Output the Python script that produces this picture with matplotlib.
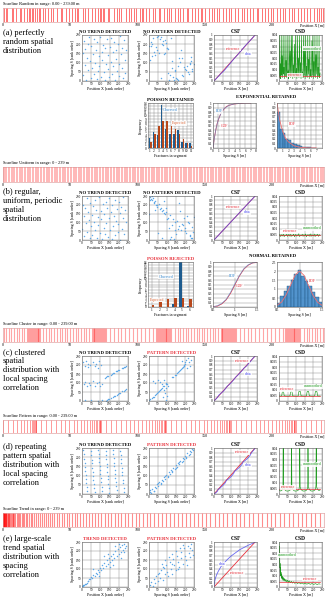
import matplotlib
matplotlib.use('Agg')
import matplotlib.pyplot as plt

plt.rcParams['font.family'] = ['Liberation Serif', 'DejaVu Serif']

# ---------------- scanline fracture positions [m] ----------------
random_pos = [0.8, 2.1, 3.0, 6.5, 7.2, 9.8, 12.4, 13.1, 15.9, 18.0, 19.3, 20.1, 21.7, 22.4, 24.0,
              25.2, 26.8, 27.5, 29.9, 31.2, 33.6, 36.0, 37.4, 40.2, 43.5, 44.1, 46.9, 49.0, 51.3,
              53.8, 55.0, 56.2, 59.7, 61.1, 63.4, 66.0, 68.3, 70.5, 72.0, 73.1, 74.6, 75.3, 77.9,
              79.2, 82.5, 85.0, 86.7, 88.1, 91.4, 93.9, 95.2, 97.6, 99.0, 101.8, 103.3, 104.1,
              106.5, 109.0, 111.7, 113.2, 115.8, 117.0, 119.5, 121.9, 123.4, 125.0, 127.8, 130.1,
              131.6, 134.2, 136.8, 138.0, 140.5, 142.9, 145.1, 147.3, 148.0, 150.6, 153.2, 155.9,
              157.1, 159.4, 161.0, 163.8, 166.2, 168.5, 170.0, 172.7, 175.3, 177.9, 179.2, 181.6,
              184.0, 186.4, 188.9, 190.1, 192.5, 195.0, 197.3, 199.8, 201.2, 203.9, 206.1, 208.4,
              210.0, 212.6, 215.3, 217.0, 219.8, 222.1, 224.4, 226.0, 228.7, 231.3, 233.5, 235.2,
              237.0, 238.6]

uniform_pos = [0.6, 2.5, 4.4, 6.5, 8.3, 10.4, 12.5, 14.3, 16.4, 18.5, 20.3, 22.6, 24.4, 26.3, 28.6,
               30.4, 32.5, 34.3, 36.6, 38.5, 40.3, 42.4, 44.6, 46.5, 48.3, 50.4, 52.5, 54.4, 56.6,
               58.3, 60.5, 62.4, 64.3, 66.6, 68.5, 70.3, 72.4, 74.5, 76.6, 78.4, 80.3, 82.5, 84.6,
               86.4, 88.3, 90.5, 92.4, 94.6, 96.5, 98.3, 100.4, 102.6, 104.5, 106.3, 108.4, 110.6,
               112.5, 114.3, 116.4, 118.5, 120.6, 122.3, 124.5, 126.4, 128.6, 130.3, 132.5, 134.4,
               136.6, 138.5, 140.3, 142.4, 144.6, 146.5, 148.3, 150.4, 152.6, 154.5, 156.3, 158.4,
               160.5, 162.6, 164.3, 166.5, 168.4, 170.6, 172.3, 174.5, 176.4, 178.6, 180.5, 182.3,
               184.4, 186.6, 188.5, 190.3, 192.4, 194.6, 196.3, 198.5, 200.4, 202.6, 204.5, 206.3,
               208.4, 210.6, 212.5, 214.3, 216.4, 218.6, 220.5, 222.3, 224.4, 226.6, 228.5, 230.3,
               232.4, 234.6, 236.5, 238.4]

cluster_pos = [0.5, 2.4, 4.3, 6.1, 8.0, 10.2, 12.1, 14.0, 15.9,
               18.0, 18.7, 19.4, 20.1, 20.8, 21.5, 22.2, 22.9, 23.6, 24.3, 25.0, 25.7, 26.4, 27.1, 27.8,
               30.0, 32.0, 34.1, 36.0, 38.1, 40.0, 42.2, 44.0, 46.1, 48.0, 50.2, 52.1, 54.0, 56.1,
               58.0, 60.2, 62.0, 64.1,
               66.0, 66.7, 67.4, 68.1, 68.8, 69.5, 70.2, 70.9, 71.6, 72.3, 73.0, 73.7, 74.4, 75.1, 75.8, 76.5,
               79.5, 82.4, 85.3, 88.2, 91.1, 94.0, 96.9, 99.8, 102.7, 105.6, 108.5, 111.4,
               114.0, 114.7, 115.4, 116.1, 116.8, 117.5, 118.2, 118.9, 119.6, 120.3, 121.0, 121.7, 122.4,
               123.1, 123.8, 124.5, 125.2,
               128.0, 130.0, 132.1, 134.0, 136.1, 138.0, 140.2, 142.0, 144.1, 146.0, 148.2, 150.0,
               152.1, 154.0, 156.2, 158.0, 160.1,
               162.0, 162.7, 163.4, 164.1, 164.8, 165.5, 166.2, 166.9, 167.6, 168.3, 169.0, 169.7, 170.4,
               171.1, 171.8, 172.5, 173.2,
               176.3, 179.2, 182.1, 185.0, 187.9, 190.8, 193.7, 196.6, 199.5, 202.4, 205.3, 208.2,
               210.0, 210.7, 211.4, 212.1, 212.8, 213.5, 214.2, 214.9, 215.6, 216.3, 217.0, 217.7, 218.4,
               219.1, 219.8, 220.5, 221.2,
               224.0, 226.0, 228.1, 230.0, 232.1, 234.0, 236.1, 238.0]

pattern_pos = [0.3, 3.8, 7.2, 10.4, 13.3, 15.9, 18.1, 19.9, 21.3, 22.4, 23.2, 23.8, 24.2, 24.5,
               28.4, 32.2, 35.9, 39.5, 43.0, 46.3, 49.5, 52.5, 55.3, 57.9, 60.3, 62.5, 64.5, 66.3,
               67.9, 69.2, 70.3, 71.2, 71.9, 72.4, 72.8,
               76.7, 80.5, 84.2, 87.8, 91.3, 94.6, 97.8, 100.8, 103.6, 106.2, 108.6, 110.8, 112.8,
               114.6, 116.2, 117.6, 118.7, 119.6, 120.3, 120.9, 121.3,
               125.2, 129.0, 132.7, 136.3, 139.8, 143.1, 146.3, 149.3, 152.1, 154.7, 157.1, 159.3,
               161.3, 163.1, 164.6, 165.9, 167.0, 167.9, 168.6, 169.2, 169.6,
               173.5, 177.3, 181.0, 184.6, 188.1, 191.4, 194.6, 197.6, 200.4, 203.0, 205.4, 207.6,
               209.6, 211.4, 213.0, 214.3, 215.4, 216.3, 217.0, 217.6, 218.0,
               221.9, 225.7, 229.4, 233.0, 236.5]

trend_pos = [0.0, 0.15, 0.3, 0.45, 0.6, 0.8, 1.0, 1.2, 1.45, 1.7, 2.0, 2.3, 2.6, 3.0, 3.4, 3.8,
             4.3, 4.8, 5.3, 5.9, 6.5, 7.1, 7.8, 8.5, 9.3, 10.1, 11.0, 11.9, 12.8, 13.8, 14.8, 15.9,
             17.0, 18.1, 19.3, 20.5, 21.8, 23.1, 24.4, 25.8, 27.2, 28.7, 30.2, 31.7, 33.3, 34.9,
             36.6, 38.3, 40.0, 41.8, 43.6, 45.5, 47.4, 49.3, 51.3, 53.3, 55.4, 57.5, 59.6, 61.8,
             64.0, 66.3, 68.6, 70.9, 73.3, 75.7, 78.1, 80.6, 83.1, 85.6, 88.2, 90.8, 93.4, 96.1,
             98.8, 101.5, 104.2, 107.0, 109.8, 112.6, 115.4, 118.3, 121.2, 124.1, 127.0, 130.0,
             133.0, 136.0, 139.0, 142.0, 145.1, 148.2, 151.3, 154.4, 157.5, 160.6, 163.8, 167.0,
             170.2, 173.4, 176.6, 179.8, 183.0, 186.3, 189.6, 192.9, 196.2, 199.5, 202.8, 206.1,
             209.4, 212.7, 216.0, 219.3, 222.6, 225.9, 229.2, 232.5, 235.8, 239.0]

scan_titles = ['Scanline Random in range: 0.00 - 239.00 m',
               'Scanline Uniform in range: 0 - 239 m',
               'Scanline Cluster in range: 0.00 - 239.00 m',
               'Scanline Pattern in range: 0.00 - 239.00 m',
               'Scanline Trend in range: 0 - 239 m']

row_texts = ['(a) perfectly\nrandom spatial\ndistribution',
             '(b) regular,\nuniform, periodic\nspatial\ndistribution',
             '(c) clustered\nspatial\ndistribution with\nlocal spacing\ncorrelation',
             '(d) repeating\npattern spatial\ndistribution with\nlocal spacing\ncorrelation',
             '(e) large-scale\ntrend spatial\ndistribution with\nspacing\ncorrelation']

# ---------------- rank-order scatter data ----------------
a_tr_x = [3, 7, 11, 15, 19, 23, 27, 31, 35, 39, 43, 47, 51, 55, 59, 63, 67, 71, 75, 79, 83, 87, 91,
          95, 99, 103, 107, 111, 115, 119, 123, 127, 131, 135, 139, 143, 147, 151, 155, 159, 163,
          167, 171, 175, 179, 183, 187, 191, 195, 199, 203, 207, 211, 215, 219, 223, 227, 231, 235, 239]
a_tr_y = [152, 31, 219, 88, 174, 7, 126, 203, 61, 237, 109, 18, 190, 73, 145, 229, 40, 98, 166, 12,
          210, 57, 134, 83, 241, 24, 160, 115, 196, 49, 8, 178, 92, 226, 66, 139, 20, 187, 104, 233,
          37, 157, 79, 212, 3, 121, 170, 54, 199, 95, 28, 243, 148, 70, 182, 14, 223, 112, 45, 168]
a_pt_x = [12, 201, 87, 150, 33, 226, 64, 118, 179, 5, 241, 95, 140, 58, 213, 21, 167, 104, 76, 190,
          44, 233, 129, 9, 159, 83, 208, 37, 121, 248, 69, 185, 16, 143, 98, 222, 51, 172, 112, 27,
          196, 80, 236, 135, 2, 163, 91, 216, 47, 126, 184, 71, 238, 108, 18, 155, 62, 229, 145, 100]
a_pt_y = [188, 66, 221, 14, 139, 97, 240, 35, 170, 115, 52, 208, 8, 154, 81, 231, 123, 43, 196, 26,
          166, 109, 73, 213, 3, 146, 59, 185, 233, 90, 16, 127, 199, 62, 178, 39, 245, 101, 5, 158,
          76, 217, 130, 22, 192, 84, 150, 48, 238, 111, 31, 203, 67, 174, 136, 11, 226, 95, 55, 181]

b_tr_x = [1, 5, 9, 13, 17, 21, 25, 29, 33, 37, 41, 45, 49, 53, 57, 61, 65, 69, 73, 77, 81, 85, 89,
          93, 97, 101, 105, 109, 113, 117, 121, 125, 129, 133, 137, 141, 145, 149, 153, 157, 161,
          165, 169, 173, 177, 181, 185, 189, 193, 197, 201, 205, 209, 213, 217, 221, 225, 229, 233, 237]
b_tr_y = [64, 201, 137, 22, 180, 95, 239, 48, 158, 116, 9, 212, 77, 143, 30, 193, 104, 227, 58, 171,
          13, 130, 86, 246, 41, 164, 120, 3, 205, 70, 149, 35, 218, 99, 183, 17, 236, 125, 54, 161,
          6, 197, 81, 139, 27, 230, 109, 175, 45, 90, 214, 152, 1, 186, 62, 123, 242, 33, 168, 102]
b_pt_x = [205, 17, 133, 78, 240, 56, 162, 4, 119, 191, 38, 225, 92, 147, 11, 178, 66, 234, 105, 29,
          198, 84, 152, 47, 216, 123, 8, 169, 71, 243, 100, 26, 186, 59, 138, 212, 35, 110, 229, 15,
          157, 88, 201, 43, 126, 250, 74, 174, 20, 143, 97, 220, 52, 166, 1, 114, 238, 81, 193, 31]
b_pt_y = [40, 226, 118, 173, 12, 205, 62, 244, 140, 85, 197, 28, 158, 101, 235, 56, 183, 9, 127, 214,
          70, 151, 33, 190, 105, 18, 230, 79, 166, 46, 121, 208, 91, 177, 3, 138, 220, 66, 24, 249,
          110, 148, 51, 199, 87, 131, 14, 162, 239, 59, 181, 95, 37, 210, 145, 5, 75, 221, 124, 170]

c_tr_x = [8, 15, 22, 30, 35, 42, 60, 68, 75, 88, 95, 104,
          10, 18, 25, 38, 45, 62, 70, 80, 92, 100, 108,
          14, 50, 85, 110,
          125, 131, 137, 143, 155, 161, 167, 173, 185, 191, 197, 203, 215, 221, 227, 233, 239,
          130, 136, 142, 148, 160, 166, 172, 178, 190, 196, 202, 208, 220, 226, 232, 238]
c_tr_y = [215, 195, 222, 205, 188, 200, 218, 192, 208, 186, 221, 199,
          95, 108, 84, 101, 90, 110, 86, 98, 105, 82, 93,
          3, 6, 2, 5,
          130, 133, 137, 140, 147, 150, 154, 157, 164, 167, 171, 174, 181, 184, 188, 191, 194,
          2, 5, 9, 12, 19, 23, 26, 29, 36, 40, 43, 47, 53, 57, 60, 64]
c_pt_x = [2, 8, 14, 20, 26, 32, 38, 44, 50, 56, 62, 68, 74, 80, 86, 92, 98,
          130, 136, 142, 148, 154, 160, 166, 172, 178, 184, 190, 196, 202,
          22, 35, 48, 60, 72, 85, 95,
          80, 88, 95, 102, 108, 92, 84,
          185, 195, 205, 212, 220, 228, 236, 200, 215, 190]
c_pt_y = [3, 9, 14, 21, 25, 33, 37, 45, 49, 57, 61, 69, 73, 81, 85, 93, 97,
          131, 135, 143, 147, 155, 159, 167, 171, 179, 183, 191, 195, 203,
          112, 98, 118, 104, 95, 115, 100,
          20, 45, 70, 30, 85, 8, 60,
          225, 200, 230, 185, 215, 195, 228, 215, 240, 190]

d_tr_x = [8, 10, 12, 14, 16, 18, 20, 22, 24, 26, 28,
          48, 50, 52, 54, 56, 58, 60, 62, 64, 66, 68,
          88, 90, 92, 94, 96, 98, 100, 102, 104, 106, 108,
          128, 130, 132, 134, 136, 138, 140, 142, 144, 146, 148,
          168, 170, 172, 174, 176, 178, 180, 182, 184, 186, 188,
          208, 210, 212, 214, 216, 218, 220, 222, 224, 226, 228]
d_tr_y = [238, 215, 192, 170, 148, 126, 104, 82, 60, 38, 15,
          232, 211, 186, 166, 141, 120, 99, 74, 55, 31, 9,
          240, 219, 195, 173, 150, 131, 106, 85, 63, 40, 18,
          235, 210, 190, 164, 145, 122, 97, 79, 52, 34, 6,
          237, 217, 193, 171, 152, 128, 108, 88, 66, 45, 22,
          231, 212, 189, 168, 143, 119, 101, 77, 58, 35, 12]
d_pt_x = [5, 12, 18, 25, 31, 38, 44, 51, 57, 64, 70, 77, 83, 90, 96, 103, 109, 116, 122, 129, 135,
          142, 148, 155, 161, 168, 174, 181, 187, 194, 200, 207, 213, 220, 226, 233, 239, 245,
          8, 28, 48, 68, 88, 108, 128, 148, 168, 188, 208, 228]
d_pt_y = [12, 4, 25, 18, 40, 30, 52, 44, 66, 58, 78, 70, 92, 83, 104, 97, 118, 109, 130, 123, 144,
          136, 156, 149, 170, 161, 182, 175, 196, 188, 208, 201, 222, 214, 234, 228, 246, 240,
          20, 18, 60, 55, 98, 95, 118, 140, 175, 178, 198, 215]

e_tr_x = [2, 5, 8, 12, 16, 20, 25, 30, 35, 40, 45, 50, 56, 62, 68, 74, 80, 86, 92, 98, 104, 110,
          116, 122, 128, 134, 140, 146, 152, 158, 164, 170, 176, 182, 188, 194, 200, 206, 212, 218,
          224, 230, 236, 240, 60, 90, 120, 150, 180, 210, 230, 200, 170, 140]
e_tr_y = [3, 4, 10, 11, 18, 19, 24, 33, 32, 44, 42, 55, 52, 68, 63, 80, 72, 95, 85, 105, 96, 122,
          108, 131, 118, 148, 126, 160, 138, 172, 150, 185, 160, 199, 170, 212, 182, 225, 196, 232,
          205, 240, 215, 230, 100, 60, 170, 110, 230, 160, 195, 240, 120, 185]
e_pt_x = [5, 12, 20, 25, 35, 40, 48, 55, 60, 68, 75, 80, 88, 95, 100, 108, 115, 120, 128, 135, 140,
          148, 155, 160, 168, 175, 180, 188, 195, 200, 208, 215, 220, 228, 235, 240, 245, 190, 170,
          150, 130, 110, 90, 70, 210, 230, 160, 125, 85, 50]
e_pt_y = [10, 30, 8, 45, 20, 60, 35, 80, 50, 95, 40, 110, 70, 125, 85, 60, 140, 100, 75, 155, 120,
          95, 175, 140, 110, 195, 160, 130, 215, 175, 150, 230, 190, 165, 240, 205, 180, 235, 215,
          200, 185, 165, 150, 130, 120, 215, 100, 130, 105, 75]

# ---------------- CSF (cumulative spacing) ----------------
csf_ref_x = [0, 239]
csf_ref_y = [0, 1]
csf_a_x = [0, 20, 40, 60, 80, 100, 120, 140, 160, 180, 200, 220, 239]
csf_a_y = [0, 0.08, 0.16, 0.23, 0.32, 0.41, 0.5, 0.58, 0.67, 0.76, 0.84, 0.92, 1.0]
csf_b_x = [0, 20, 40, 60, 80, 100, 120, 140, 160, 180, 200, 220, 239]
csf_b_y = [0, 0.084, 0.167, 0.251, 0.335, 0.418, 0.502, 0.586, 0.669, 0.753, 0.837, 0.92, 1.0]
csf_c_x = [0, 18, 28, 40, 55, 66, 77, 90, 105, 114, 126, 140, 152, 162, 174, 190, 200, 210, 222, 239]
csf_c_y = [0, 0.07, 0.13, 0.17, 0.22, 0.27, 0.33, 0.37, 0.43, 0.47, 0.53, 0.58, 0.63, 0.67, 0.73,
           0.78, 0.83, 0.87, 0.93, 1.0]
csf_d_x = [0, 10, 20, 24.5, 35, 50, 65, 72.8, 85, 100, 113, 121.3, 133, 148, 162, 169.6, 182, 197,
           210, 218, 230, 239]
csf_d_y = [0, 0.025, 0.06, 0.1, 0.13, 0.18, 0.24, 0.3, 0.33, 0.38, 0.44, 0.5, 0.53, 0.58, 0.64, 0.7,
           0.73, 0.78, 0.84, 0.9, 0.95, 1.0]
csf_e_x = [0, 3, 8, 15, 25, 40, 60, 80, 100, 125, 150, 175, 200, 225, 239]
csf_e_y = [0, 0.1, 0.19, 0.27, 0.35, 0.45, 0.54, 0.62, 0.69, 0.76, 0.83, 0.88, 0.93, 0.97, 1.0]

# ---------------- CSD (spacing density, unsmoothed) ----------------
csd_ref_x = [0, 239]
csd_ref_y = [0.0042, 0.0042]
csd_a_x = [0, 3, 5, 8, 10, 13, 16, 18, 21, 24, 27, 29, 32, 35, 38, 41, 44, 47, 50, 53,
           56, 59, 62, 65, 68, 71, 74, 77, 80, 83, 86, 89, 92, 95, 98, 101, 104, 107, 110, 113,
           116, 119, 122, 125, 128, 131, 134, 137, 140, 143, 146, 149, 152, 155, 158, 161, 164,
           167, 170, 173, 176, 179, 182, 185, 188, 191, 194, 197, 200, 203, 206, 209, 212, 215,
           218, 221, 224, 227, 230, 233, 236, 239]
csd_a_y = [0.004, 0.041, 0.003, 0.015, 0.002, 0.041, 0.005, 0.022, 0.003, 0.041,
           0.006, 0.012, 0.002, 0.041, 0.004, 0.018, 0.003, 0.041, 0.005, 0.009,
           0.002, 0.041, 0.004, 0.026, 0.003, 0.041, 0.006, 0.041, 0.002, 0.014,
           0.004, 0.032, 0.003, 0.041, 0.005, 0.011, 0.002, 0.041, 0.004, 0.020,
           0.003, 0.041, 0.006, 0.016, 0.002, 0.041, 0.004, 0.008, 0.003, 0.041,
           0.005, 0.028, 0.002, 0.041, 0.004, 0.013, 0.003, 0.041, 0.006, 0.019,
           0.002, 0.041, 0.004, 0.010, 0.003, 0.035, 0.005, 0.041, 0.002, 0.017,
           0.004, 0.041, 0.003, 0.023, 0.006, 0.041, 0.002, 0.012, 0.004, 0.041,
           0.003, 0.007]
csd_b_x = [0, 5, 10, 15, 20, 25, 30, 35, 40, 45, 50, 55, 60, 65, 70, 75, 80, 85, 90, 95,
           100, 105, 110, 115, 120, 125, 130, 135, 140, 145, 150, 155, 160, 165, 170, 175, 180,
           185, 190, 195, 200, 205, 210, 215, 220, 225, 230, 235, 239]
csd_b_y = [0.0035, 0.0052, 0.0031, 0.0049, 0.0036, 0.0055, 0.0030, 0.0047, 0.0038, 0.0053,
           0.0032, 0.0050, 0.0035, 0.0056, 0.0031, 0.0048, 0.0037, 0.0054, 0.0030, 0.0051,
           0.0034, 0.0049, 0.0036, 0.0057, 0.0031, 0.0046, 0.0038, 0.0053, 0.0033, 0.0050,
           0.0035, 0.0055, 0.0030, 0.0048, 0.0037, 0.0052, 0.0032, 0.0056, 0.0034, 0.0047,
           0.0036, 0.0054, 0.0031, 0.0050, 0.0038, 0.0053, 0.0033, 0.0049, 0.0040]
csd_c_x = [0, 10, 16, 18, 20, 26, 28, 30, 40, 55, 64, 66, 68, 75, 77, 79, 90, 105, 112, 114,
           116, 124, 126, 128, 140, 152, 160, 162, 164, 172, 174, 176, 188, 200, 208, 210, 212,
           220, 222, 224, 232, 239]
csd_c_y = [0.0045, 0.0043, 0.0046, 0.0070, 0.0085, 0.0085, 0.0070, 0.0046, 0.0044, 0.0043,
           0.0046, 0.0070, 0.0085, 0.0085, 0.0070, 0.0046, 0.0044, 0.0043, 0.0046, 0.0070,
           0.0085, 0.0085, 0.0070, 0.0046, 0.0044, 0.0043, 0.0046, 0.0070, 0.0085, 0.0085,
           0.0070, 0.0046, 0.0044, 0.0043, 0.0046, 0.0070, 0.0085, 0.0085, 0.0070, 0.0046,
           0.0044, 0.0045]
csd_d_x = [0, 8, 16, 21, 23, 24, 25, 27, 32, 40, 48, 56, 64, 69, 71, 72, 73, 75, 80, 88,
           96, 104, 112, 117, 119, 120, 121, 123, 128, 136, 144, 152, 160, 165, 167, 168, 169,
           171, 176, 184, 192, 200, 208, 213, 215, 216, 217, 219, 224, 232, 239]
csd_d_y = [0.0035, 0.0026, 0.0030, 0.0045, 0.0080, 0.0420, 0.0420, 0.0060, 0.0040, 0.0028,
           0.0025, 0.0027, 0.0033, 0.0045, 0.0080, 0.0420, 0.0420, 0.0060, 0.0040, 0.0028,
           0.0025, 0.0027, 0.0033, 0.0045, 0.0080, 0.0420, 0.0420, 0.0060, 0.0040, 0.0028,
           0.0025, 0.0027, 0.0033, 0.0045, 0.0080, 0.0420, 0.0420, 0.0060, 0.0040, 0.0028,
           0.0025, 0.0027, 0.0033, 0.0045, 0.0080, 0.0420, 0.0420, 0.0060, 0.0040, 0.0030,
           0.0035]
csd_e_x = [0, 1, 2, 3, 4, 5, 6, 7, 8, 10, 12, 14, 16, 18, 20, 23, 26, 29, 32, 36,
           40, 45, 50, 55, 60, 66, 72, 78, 85, 92, 100, 108, 116, 125, 134, 143, 152, 162, 172,
           182, 192, 202, 212, 222, 232, 239]
csd_e_y = [0.040, 0.030, 0.036, 0.022, 0.028, 0.017, 0.021, 0.013, 0.017, 0.010,
           0.013, 0.008, 0.011, 0.007, 0.0095, 0.006, 0.0085, 0.0055, 0.0075, 0.005,
           0.0068, 0.0045, 0.006, 0.0042, 0.0055, 0.0038, 0.005, 0.0035, 0.0046, 0.0032,
           0.0042, 0.003, 0.004, 0.0028, 0.0037, 0.0026, 0.0035, 0.0025, 0.0033, 0.0024,
           0.0031, 0.0023, 0.003, 0.0022, 0.0029, 0.0025]

# ---------------- Poisson tests ----------------
pois_a_k = [1, 2, 3, 4, 5, 6, 7, 8, 9, 10, 11]
pois_a_obs = [3.2, 5.0, 4.0, 13.5, 6.0, 4.5, 4.5, 5.5, 2.0, 1.5, 1.5]
pois_a_exp = [2.0, 4.3, 6.8, 8.5, 8.5, 7.5, 6.0, 4.5, 2.8, 1.5, 0.6]
pois_b_k = [1, 2, 3, 4, 5, 6]
pois_b_obs = [0.0, 0.0, 0.0, 1.2, 16.0, 0.5]
pois_b_exp = [0.7, 1.8, 2.8, 3.3, 3.3, 2.7]

# ---------------- exponential fit (a) ----------------
exp_x = [0, 0.25, 0.5, 0.75, 1, 1.5, 2, 2.5, 3, 4, 5, 6, 7]
exp_cdf = [0, 0.22, 0.39, 0.53, 0.63, 0.78, 0.86, 0.92, 0.95, 0.98, 0.99, 1.0, 1.0]
exp_edf = [0, 0.21, 0.40, 0.52, 0.64, 0.77, 0.87, 0.91, 0.95, 0.98, 0.995, 1.0, 1.0]
exp_bin_left = [0, 0.5, 1, 1.5, 2, 2.5, 3, 3.5, 4, 4.5, 5, 5.5, 6, 6.5]
exp_hist = [0.80, 0.43, 0.34, 0.21, 0.17, 0.12, 0.08, 0.06, 0.04, 0.03, 0.02, 0.015, 0.01, 0.01]
exp_pdf_x = [0, 0.5, 1, 1.5, 2, 3, 4, 5, 6, 7]
exp_pdf_y = [1.0, 0.61, 0.37, 0.22, 0.14, 0.05, 0.018, 0.007, 0.002, 0.001]

# ---------------- normal fit (b) ----------------
norm_x = [0.5, 0.6, 0.7, 0.8, 0.9, 1.0, 1.1, 1.2, 1.3, 1.4, 1.5]
norm_cdf = [0.01, 0.02, 0.07, 0.16, 0.31, 0.5, 0.69, 0.84, 0.93, 0.98, 0.99]
norm_edf = [0.0, 0.03, 0.08, 0.17, 0.33, 0.52, 0.70, 0.85, 0.94, 0.98, 1.0]
norm_bin_left = [0.5, 0.577, 0.654, 0.731, 0.808, 0.885, 0.962, 1.038, 1.115, 1.192, 1.269, 1.346, 1.423]
norm_hist = [0.25, 0.6, 0.9, 1.15, 1.5, 1.85, 2.05, 1.75, 1.45, 1.15, 0.85, 0.55, 0.3]
norm_pdf = [0.09, 0.27, 0.65, 1.21, 1.76, 2.0, 1.76, 1.21, 0.65, 0.27, 0.09]

# ====================================================================
W, H = 328.0, 600.0
fig = plt.figure(figsize=(3.28, 6.0), dpi=100)

BLUE_PT = '#5ea8e8'
RED = '#e8303a'
GREEN = '#1f9a1f'
LBL = 2.9
TCK = 2.5


def box(x0, y0, x1, y1):
    return [x0 / W, 1 - y1 / H, (x1 - x0) / W, (y1 - y0) / H]


def style(ax, xlim, ylim, xticks, yticks, xlabel=None, ylabel=None, title=None,
          tcolor='black', tsize=3.4):
    ax.set_xlim(xlim)
    ax.set_ylim(ylim)
    ax.set_xticks(xticks)
    ax.set_yticks(yticks)
    ax.set_xticklabels(['%g' % v for v in xticks])
    ax.set_yticklabels(['%g' % v for v in yticks])
    ax.tick_params(labelsize=TCK, length=0, pad=0.8)
    ax.grid(True, color='#909090', lw=0.35)
    ax.set_axisbelow(True)
    for s in ax.spines.values():
        s.set_linewidth(0.4)
        s.set_color('#666666')
    if xlabel:
        ax.set_xlabel(xlabel, fontsize=LBL, labelpad=0.4)
    if ylabel:
        ax.set_ylabel(ylabel, fontsize=LBL, labelpad=0.4)
    if title:
        ax.set_title(title, fontsize=tsize, fontweight='bold', color=tcolor, pad=1.2)


def tag(ax, x, y, s, color):
    ax.text(x, y, s, fontsize=2.8, color=color, ha='center', va='center',
            bbox=dict(fc='white', ec='none', pad=0.3, alpha=0.85))


def scanline(y0, y1, pos, title, lw, alpha):
    ax = fig.add_axes(box(3, y0, 324, y1))
    ax.vlines(pos, 0, 1, color='red', lw=lw, alpha=alpha)
    ax.set_xlim(0, 239)
    ax.set_ylim(0, 1)
    ax.set_yticks([])
    ax.set_xticks([0, 50, 100, 150, 200])
    ax.tick_params(labelsize=3, length=0, pad=1)
    for s in ax.spines.values():
        s.set_linewidth(0.4)
        s.set_color('#d89090')
    ax.text(0, 1.12, title, transform=ax.transAxes, fontsize=3.2, va='bottom')
    ax.text(1, -0.12, 'Position X [m]', transform=ax.transAxes, fontsize=3,
            ha='right', va='top')


# scanlines
scanline(8, 22, random_pos, scan_titles[0], 0.7, 0.55)
scanline(167, 182, uniform_pos, scan_titles[1], 1.3, 0.3)
scanline(328, 342, cluster_pos, scan_titles[2], 0.8, 0.35)
scanline(420, 433, pattern_pos, scan_titles[3], 0.7, 0.4)
scanline(513, 527, trend_pos, scan_titles[4], 0.8, 0.45)

# row description texts
for txt, top in zip(row_texts, [29, 188, 348, 443, 535]):
    fig.text(3 / W, 1 - top / H, txt, fontsize=6.0, va='top', ha='left', linespacing=1.18)

rows = [
    (35, 81, a_tr_x, a_tr_y, a_pt_x, a_pt_y, 'NO TREND DETECTED', 'black', 'NO PATTERN DETECTED', 'black',
     csf_a_x, csf_a_y, (110, 0.70), (198, 0.59), csd_a_x, csd_a_y, (192, 0.028), (93, 0.0052)),
    (196, 240, b_tr_x, b_tr_y, b_pt_x, b_pt_y, 'NO TREND DETECTED', 'black', 'NO PATTERN DETECTED', 'black',
     csf_b_x, csf_b_y, (110, 0.75), (192, 0.63), csd_b_x, csd_b_y, (192, 0.0107), (64, 0.008)),
    (356, 401, c_tr_x, c_tr_y, c_pt_x, c_pt_y, 'NO TREND DETECTED', 'black', 'PATTERN DETECTED', RED,
     csf_c_x, csf_c_y, (163, 0.89), (198, 0.61), csd_c_x, csd_c_y, (198, 0.013), (47, 0.0104)),
    (448, 494, d_tr_x, d_tr_y, d_pt_x, d_pt_y, 'NO TREND DETECTED', 'black', 'PATTERN DETECTED', RED,
     csf_d_x, csf_d_y, (163, 0.91), (198, 0.63), csd_d_x, csd_d_y, (192, 0.026), (52, 0.006)),
    (542, 587, e_tr_x, e_tr_y, e_pt_x, e_pt_y, 'TREND DETECTED', RED, 'PATTERN DETECTED', RED,
     csf_e_x, csf_e_y, (134, 0.31), (47, 0.51), csd_e_x, csd_e_y, (47, 0.028), (180, 0.0071)),
]

rank_ticks = [0, 50, 100, 150, 200, 250]
csf_yt = [0, 0.1, 0.2, 0.3, 0.4, 0.5, 0.6, 0.7, 0.8, 0.9, 1]
csd_yt = [0, 0.005, 0.01, 0.015, 0.02, 0.025, 0.03, 0.035, 0.04]

for (y0, y1, trx, tryy, ptx, pty, t1, c1, t2, c2, cx, cy, ref_at, dat_at,
     dx, dy, uns_at, dref_at) in rows:
    ax = fig.add_axes(box(82, y0, 128, y1))
    ax.plot(trx, tryy, 'o', color=BLUE_PT, ms=1.05, mew=0)
    style(ax, (0, 250), (0, 250), rank_ticks, rank_ticks, 'Position X [rank order]',
          'Spacing S [rank order]', t1, c1)

    ax = fig.add_axes(box(149, y0, 194, y1))
    ax.plot(ptx, pty, 'o', color=BLUE_PT, ms=1.05, mew=0)
    style(ax, (0, 250), (0, 250), rank_ticks, rank_ticks, 'Spacing S [rank order]',
          'Spacing S [rank order]', t2, c2)

    ax = fig.add_axes(box(214, y0, 257, y1))
    ax.plot(csf_ref_x, csf_ref_y, color=RED, lw=0.6)
    ax.plot(cx, cy, color='#5050f0', lw=0.6, alpha=0.85)
    style(ax, (0, 250), (0, 1), rank_ticks, csf_yt, 'Position X [m]', None, 'CSF', 'black', 4.0)
    tag(ax, ref_at[0], ref_at[1], 'reference', RED)
    tag(ax, dat_at[0], dat_at[1], 'data', '#4040f0')

    ax = fig.add_axes(box(279, y0, 322, y1))
    ax.plot(dx, dy, color=GREEN, lw=0.45)
    ax.plot(csd_ref_x, csd_ref_y, color=RED, lw=0.5)
    style(ax, (0, 250), (0, 0.04), rank_ticks, csd_yt, 'Position X [m]', None, 'CSD', 'black', 4.0)
    tag(ax, uns_at[0], uns_at[1], 'unsmoothed', GREEN)
    tag(ax, dref_at[0], dref_at[1], 'reference', RED)

OBS = '#1f5c8f'
EXP = '#b8481c'

# ---- (a) second row: Poisson + exponential ----
ax = fig.add_axes(box(148, 103, 193, 148))
ax.bar([k - 0.18 for k in pois_a_k], pois_a_obs, width=0.36, color=OBS)
ax.bar([k + 0.18 for k in pois_a_k], pois_a_exp, width=0.36, color=EXP)
style(ax, (0.5, 11.5), (0, 14), pois_a_k, list(range(15)), 'Fractures in segment', 'Frequency',
      'POISSON RETAINED')
tag(ax, 6.0, 11.8, 'Observed', '#3a8ad0')
tag(ax, 8.1, 7.7, 'Expected', '#e06a3a')

fig.text(266 / W, 1 - 98 / H, 'EXPONENTIAL RETAINED', fontsize=3.4, fontweight='bold',
         ha='center', va='baseline')
ax = fig.add_axes(box(213, 103, 256, 148))
ax.plot(exp_x, exp_cdf, color=RED, lw=0.6)
ax.plot(exp_x, exp_edf, color='#5aa0e0', lw=0.5, alpha=0.8)
style(ax, (0, 8), (0, 1), list(range(9)), csf_yt, 'Spacing S [m]')
tag(ax, 1.2, 0.82, 'EDF', '#3a8ad0')
tag(ax, 2.1, 0.49, 'CDF', RED)

ax = fig.add_axes(box(277, 103, 322, 148))
ax.bar(exp_bin_left, exp_hist, width=0.5, align='edge', color='#3f88c8', edgecolor='#1d4f7a',
       lw=0.3, alpha=0.9)
ax.plot(exp_pdf_x, exp_pdf_y, color='#f07070', lw=0.6)
style(ax, (0, 8), (0, 1), list(range(8)), csf_yt, 'Spacing S [m]')
tag(ax, 2.7, 0.53, 'PDF', RED)

# ---- (b) second row: Poisson + normal ----
ax = fig.add_axes(box(148, 262, 193, 307))
ax.bar([k - 0.18 for k in pois_b_k], pois_b_obs, width=0.36, color=OBS)
ax.bar([k + 0.18 for k in pois_b_k], pois_b_exp, width=0.36, color=EXP)
style(ax, (0.5, 6.5), (0, 16), pois_b_k, list(range(17)), 'Fractures in segment', 'Frequency',
      'POISSON REJECTED', RED)
tag(ax, 2.9, 10.7, 'Observed', '#3a8ad0')
tag(ax, 1.7, 2.5, 'Expected', '#e06a3a')

fig.text(273 / W, 1 - 257 / H, 'NORMAL RETAINED', fontsize=3.4, fontweight='bold',
         ha='center', va='baseline')
ax = fig.add_axes(box(213, 262, 257, 307))
ax.plot(norm_x, norm_cdf, color=RED, lw=0.6)
ax.plot(norm_x, norm_edf, color='#5aa0e0', lw=0.5, alpha=0.8)
style(ax, (0.5, 1.5), (0, 1), [0.5, 1, 1.5], csf_yt, 'Spacing S [m]')
tag(ax, 0.95, 0.69, 'EDF', '#3a8ad0')
tag(ax, 1.11, 0.47, 'CDF', RED)

ax = fig.add_axes(box(277, 262, 322, 307))
ax.bar(norm_bin_left, norm_hist, width=0.077, align='edge', color='#3f88c8', edgecolor='#1d4f7a',
       lw=0.3, alpha=0.9)
ax.plot(norm_x, norm_pdf, color='#f07070', lw=0.6)
style(ax, (0.5, 1.5), (0, 2.5), [0.5, 1, 1.5], [0, 0.5, 1, 1.5, 2, 2.5], 'Spacing S [m]')
tag(ax, 1.28, 1.44, 'PDF', RED)

fig.savefig('out.png', dpi=100)
